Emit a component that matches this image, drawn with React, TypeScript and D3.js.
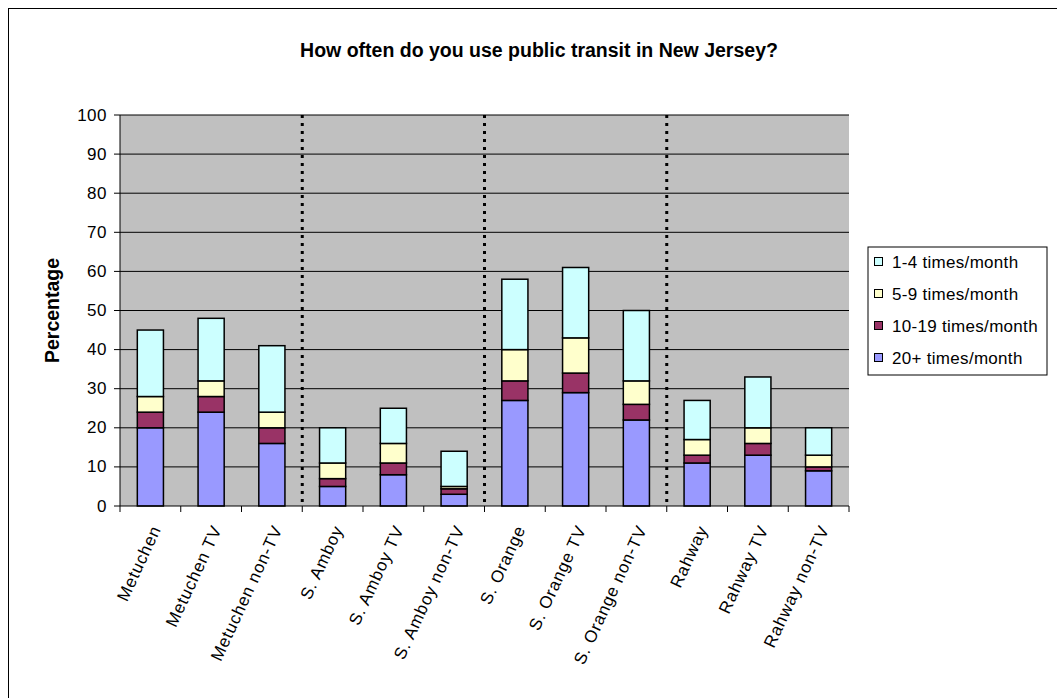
import React from "react";
import * as d3 from "d3";

const categories = [
  "Metuchen", "Metuchen TV", "Metuchen non-TV",
  "S. Amboy", "S. Amboy TV", "S. Amboy non-TV",
  "S. Orange", "S. Orange TV", "S. Orange non-TV",
  "Rahway", "Rahway TV", "Rahway non-TV",
];
const series = ["20+ times/month", "10-19 times/month", "5-9 times/month", "1-4 times/month"];
const s20plus = [20, 24, 16, 5, 8, 3, 27, 29, 22, 11, 13, 9];
const s10to19 = [4, 4, 4, 2, 3, 1.4, 5, 5, 4, 2, 3, 1];
const s5to9 = [4, 4, 4, 4, 5, 0.6, 8, 9, 6, 4, 4, 3];
const s1to4 = [17, 16, 17, 9, 9, 9, 18, 18, 18, 10, 13, 7];
const yTicks = [0, 10, 20, 30, 40, 50, 60, 70, 80, 90, 100];
const separators = [3, 6, 9];
const colors = ["#9999FF", "#993366", "#FFFFCC", "#CCFFFF"];

const FONT = "Arial, 'Liberation Sans', sans-serif";

export default function App() {
  const left = 120, right = 849, top = 115, bottom = 506;
  const x = d3.scaleBand<string>().domain(categories).range([left, right]).paddingInner(0.57).paddingOuter(0.285);
  const step = x.step();
  const y = d3.scaleLinear().domain([0, 100]).range([bottom, top]);

  const rows = categories.map((c, i) => ({
    cat: c,
    "20+ times/month": s20plus[i],
    "10-19 times/month": s10to19[i],
    "5-9 times/month": s5to9[i],
    "1-4 times/month": s1to4[i],
  }));
  const stacked = d3.stack<any>().keys(series)(rows);

  const boundary = (i: number) => left + i * step;

  const legendItems = [...series].reverse();
  const legendColors = [...colors].reverse();
  const angle = -65;

  return (
    <svg width={1057} height={698} style={{ position: "absolute", left: 0, top: 0 }} fontFamily={FONT}>
      <rect x={0} y={0} width={1057} height={698} fill="#fff" />
      <rect x={8.5} y={8.5} width={1100} height={750} fill="#fff" stroke="#000" strokeWidth={1} />
      <text x={539} y={57} textAnchor="middle" fontSize={19.5} fontWeight="bold">
        How often do you use public transit in New Jersey?
      </text>
      <rect x={left} y={top} width={right - left} height={bottom - top} fill="#C0C0C0" />
      {yTicks.map((t) => (
        <g key={t}>
          {t > 0 && <line x1={left} x2={right} y1={y(t)} y2={y(t)} stroke="#000" strokeWidth={1} />}
          <line x1={114} x2={left} y1={y(t)} y2={y(t)} stroke="#000" strokeWidth={1} />
          <text x={107} y={y(t) + 5.5} textAnchor="end" fontSize={17} letterSpacing={0.5}>{t}</text>
        </g>
      ))}
      {separators.map((s) => (
        <line key={s} x1={boundary(s)} x2={boundary(s)} y1={top} y2={bottom}
          stroke="#000" strokeWidth={3} strokeDasharray="3 5" />
      ))}
      {stacked.map((layer, li) => (
        <g key={layer.key}>
          {layer.map((d, i) => (
            <rect key={i} x={x(categories[i])} y={y(d[1])} width={x.bandwidth()}
              height={Math.max(0, y(d[0]) - y(d[1]))}
              fill={colors[li]} stroke="#000" strokeWidth={1.5} />
          ))}
        </g>
      ))}
      <line x1={left} x2={right} y1={bottom} y2={bottom} stroke="#000" strokeWidth={1} />
      <line x1={left} x2={left} y1={top} y2={bottom} stroke="#000" strokeWidth={1} />
      {d3.range(categories.length + 1).map((i) => (
        <line key={i} x1={boundary(i)} x2={boundary(i)} y1={bottom} y2={bottom + 6} stroke="#000" />
      ))}
      {categories.map((c) => {
        const cx = (x(c) as number) + x.bandwidth() / 2 + 11;
        const cy = 529;
        return (
          <text key={c} x={cx} y={cy} textAnchor="end" fontSize={17} letterSpacing={0.8}
            transform={`rotate(${angle} ${cx} ${cy})`}>{c}</text>
        );
      })}
      <text x={0} y={0} transform={`translate(59 ${(top + bottom) / 2}) rotate(-90)`}
        textAnchor="middle" fontSize={19.5} fontWeight="bold">Percentage</text>
      <rect x={868} y={247} width={179} height={128} fill="#fff" stroke="#000" strokeWidth={1} />
      {legendItems.map((s, i) => {
        const cy = 262 + i * 32;
        return (
          <g key={s}>
            <rect x={874.5} y={cy - 4.5} width={8} height={8} fill={legendColors[i]} stroke="#000" strokeWidth={1} />
            <text x={892} y={cy + 5.7} fontSize={17} letterSpacing={0.3}>{s}</text>
          </g>
        );
      })}
    </svg>
  );
}
